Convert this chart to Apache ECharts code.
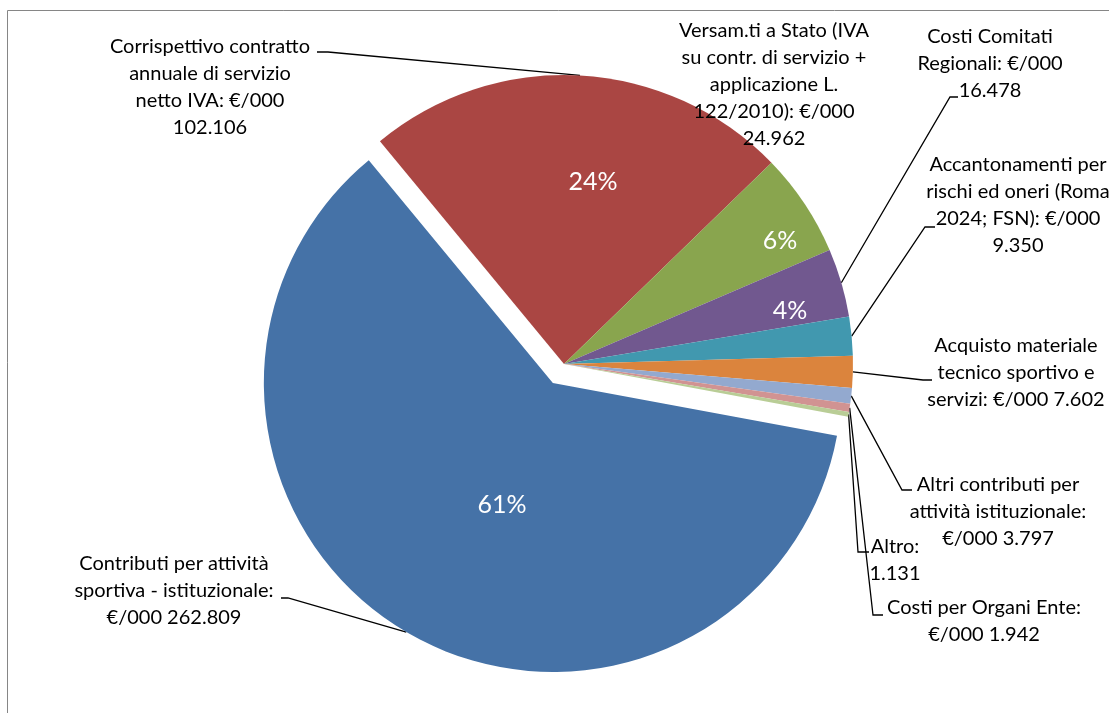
<!DOCTYPE html>
<html>
<head>
<meta charset="utf-8">
<script src="https://cdn.jsdelivr.net/npm/echarts@6/dist/echarts.min.js"></script>
<style>
  html, body { margin: 0; padding: 0; background: #fff; }
  #chart { width: 1109px; height: 713px; }
</style>
</head>
<body>
<div id="chart"></div>
<script>
// voci (ordine orario, partendo dalla fetta esplosa)
const categories = [
  "Contributi per attività sportiva - istituzionale",
  "Corrispettivo contratto annuale di servizio netto IVA",
  "Versam.ti a Stato (IVA su contr. di servizio + applicazione L. 122/2010)",
  "Costi Comitati Regionali",
  "Accantonamenti per rischi ed oneri (Roma 2024; FSN)",
  "Acquisto materiale tecnico sportivo e servizi",
  "Altri contributi per attività istituzionale",
  "Costi per Organi Ente",
  "Altro"
];
// importi in €/000
const values = [262809, 102106, 24962, 16478, 9350, 7602, 3797, 1942, 1131];
const labelTexts = [
  "Contributi per attività\nsportiva - istituzionale:\n€/000 262.809",
  "Corrispettivo contratto\nannuale di servizio\nnetto IVA: €/000\n102.106",
  "Versam.ti a Stato (IVA\nsu contr. di servizio +\napplicazione L.\n122/2010): €/000\n24.962",
  "Costi Comitati\nRegionali: €/000\n16.478",
  "Accantonamenti per\nrischi ed oneri (Roma\n2024; FSN): €/000\n9.350",
  "Acquisto materiale\ntecnico sportivo e\nservizi: €/000 7.602",
  "Altri contributi per\nattività istituzionale:\n€/000 3.797",
  "Costi per Organi Ente:\n€/000 1.942",
  "Altro:\n1.131"
];
const colors = ["#4572A7", "#AA4643", "#89A54E", "#71588F", "#4198AF",
                "#DB843D", "#93A9CF", "#D19392", "#B9CD96"];

// layout etichette
const center = [564, 364];
const explode = 22;
const outerPos = [[174, 591], [210, 87], [774, 85], [990, 64], [1018, 205],
                  [1016, 373], [998, 512], [984, 621], [895, 560]];
const guide = [
  [[288, 598], [281, 598]],
  [[328, 52], [317, 52]],
  null,
  [[950, 97], [958, 97]],
  [[925, 227], [935, 227]],
  [[923, 380], [932, 380]],
  [[902, 490], [912, 490]],
  [[873, 615], [883, 615]],
  [[858, 552], [869, 552]]
];
const pctPos = [[502, 505], [593, 182], [780, 241], [790, 311]];

const FONT = "Lato, 'Open Sans', sans-serif";

const pieData = values.map((v, i) => ({
  name: categories[i],
  value: v,
  selected: i === 0,
  itemStyle: { color: colors[i] }
}));
const ghostData = values.map((v, i) => ({
  name: categories[i],
  value: v,
  labelLine: { show: guide[i] != null }
}));

const base = {
  type: "pie",
  center: center,
  radius: 289,
  startAngle: -10.5,
  clockwise: true,
  avoidLabelOverlap: false,
  animation: false
};

const myChart = echarts.init(document.getElementById("chart"));
myChart.setOption({
  backgroundColor: "#fff",
  graphic: [{
    type: "rect",
    shape: { x: 7.5, y: 10.5, width: 1300, height: 900 },
    style: { fill: null, stroke: "#868686", lineWidth: 1 },
    silent: true
  }],
  series: [
    Object.assign({}, base, {
      selectedMode: "single",
      selectedOffset: explode,
      label: { show: false },
      labelLine: { show: false },
      emphasis: { disabled: true },
      data: pieData
    }),
    // percentuali interne
    Object.assign({}, base, {
      silent: true,
      itemStyle: { color: "rgba(0,0,0,0)" },
      label: {
        show: true,
        position: "inside",
        color: "#fff",
        fontFamily: FONT,
        fontSize: 25,
        formatter: (p) => (p.percent >= 3 ? Math.round(p.percent) + "%" : "")
      },
      labelLine: { show: false },
      labelLayout: (p) => {
        const pos = pctPos[p.dataIndex];
        if (!pos) return {};
        return { x: pos[0], y: pos[1], align: "center", verticalAlign: "middle" };
      },
      data: values.map((v, i) => ({ name: categories[i], value: v }))
    }),
    // etichette esterne con linee guida
    Object.assign({}, base, {
      silent: true,
      itemStyle: { color: "rgba(0,0,0,0)" },
      label: {
        show: true,
        position: "outside",
        color: "#000",
        fontFamily: FONT,
        fontSize: 20,
        lineHeight: 27,
        align: "center",
        formatter: (p) => labelTexts[p.dataIndex]
      },
      labelLine: {
        show: true,
        length: 10,
        length2: 10,
        lineStyle: { color: "#000", width: 1.3 }
      },
      labelLayout: (p) => {
        const i = p.dataIndex;
        const res = {
          x: outerPos[i][0],
          y: outerPos[i][1],
          align: "center",
          verticalAlign: "middle"
        };
        if (guide[i] && p.labelLinePoints) {
          let p0 = p.labelLinePoints[0].slice();
          if (i === 0) {
            const dx = p0[0] - center[0], dy = p0[1] - center[1];
            const len = Math.sqrt(dx * dx + dy * dy);
            p0 = [p0[0] + dx / len * explode, p0[1] + dy / len * explode];
          }
          res.labelLinePoints = [p0, guide[i][0], guide[i][1]];
        }
        return res;
      },
      data: ghostData
    })
  ]
});
</script>
</body>
</html>
